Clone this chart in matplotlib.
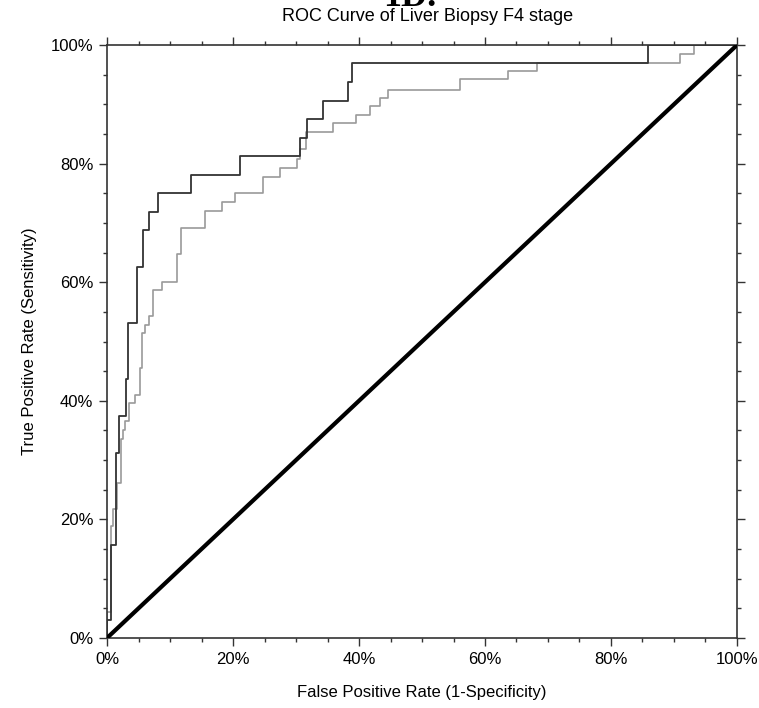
import matplotlib.pyplot as plt
from matplotlib.ticker import MultipleLocator, PercentFormatter

plt.rcParams['font.family'] = ['Liberation Sans', 'DejaVu Sans']

# step corners, in percent
dark_fpr = [0, 0, 0.6, 0.6, 1.5, 1.5, 1.95, 1.95, 3.0, 3.0, 3.3, 3.3, 4.75, 4.75,
            5.7, 5.7, 6.7, 6.7, 8.1, 8.1, 13.4, 13.4, 21.1, 21.1, 30.6, 30.6,
            31.8, 31.8, 34.3, 34.3, 38.2, 38.2, 38.9, 38.9, 85.9, 85.9, 100]
dark_tpr = [0, 3.1, 3.1, 15.6, 15.6, 31.25, 31.25, 37.5, 37.5, 43.75, 43.75, 53.1,
            53.1, 62.5, 62.5, 68.75, 68.75, 71.9, 71.9, 75.0, 75.0, 78.1, 78.1,
            81.25, 81.25, 84.4, 84.4, 87.5, 87.5, 90.6, 90.6, 93.75, 93.75, 96.9,
            96.9, 100, 100]

light_fpr = [0, 0, 0.6, 0.6, 1.0, 1.0, 1.54, 1.54, 2.27, 2.27, 2.49, 2.49, 2.86, 2.86,
             3.54, 3.54, 4.49, 4.49, 5.2, 5.2, 5.5, 5.5, 6.1, 6.1, 6.6, 6.6, 7.3, 7.3,
             8.7, 8.7, 11.16, 11.16, 11.7, 11.7, 15.56, 15.56, 18.25, 18.25, 20.3,
             20.3, 24.8, 24.8, 27.5, 27.5, 30.1, 30.1, 30.6, 30.6, 31.6, 31.6, 35.8,
             35.8, 39.6, 39.6, 41.7, 41.7, 43.3, 43.3, 44.6, 44.6, 56.0, 56.0, 63.7,
             63.7, 68.2, 68.2, 90.95, 90.95, 93.2, 93.2, 100]
light_tpr = [0, 4.4, 4.4, 18.9, 18.9, 21.7, 21.7, 26.2, 26.2, 33.6, 33.6, 35.1, 35.1,
             36.6, 36.6, 39.6, 39.6, 41.0, 41.0, 45.5, 45.5, 51.4, 51.4, 52.8, 52.8,
             54.3, 54.3, 58.7, 58.7, 60.1, 60.1, 64.8, 64.8, 69.1, 69.1, 72.0, 72.0,
             73.5, 73.5, 75.0, 75.0, 77.8, 77.8, 79.3, 79.3, 80.7, 80.7, 82.4, 82.4,
             85.3, 85.3, 86.8, 86.8, 88.2, 88.2, 89.7, 89.7, 91.1, 91.1, 92.5, 92.5,
             94.2, 94.2, 95.6, 95.6, 96.9, 96.9, 98.5, 98.5, 100, 100]

ref_line = [0, 100]

fig = plt.figure(figsize=(7.59, 7.08), dpi=100)
ax = fig.add_axes([0.141, 0.0989, 0.830, 0.8375])

ax.plot(light_fpr, light_tpr, color='#9a9a9a', lw=1.2, zorder=2)
ax.plot(dark_fpr, dark_tpr, color='#333333', lw=1.3, zorder=3)
ax.plot(ref_line, ref_line, color='black', lw=3, solid_capstyle='butt', zorder=4)

ax.set_xlim(0, 100)
ax.set_ylim(0, 100)
for a in (ax.xaxis, ax.yaxis):
    a.set_major_locator(MultipleLocator(20))
    a.set_minor_locator(MultipleLocator(5))
    a.set_major_formatter(PercentFormatter(decimals=0))
ax.tick_params(which='both', direction='out', top=True, right=True,
               labelsize=12, color='#333333', width=1)
ax.tick_params(which='major', length=6, pad=4)
ax.tick_params(which='minor', length=3)
for s in ax.spines.values():
    s.set_color('#333333')
    s.set_linewidth(1.2)

ax.set_xlabel('False Positive Rate (1-Specificity)', fontsize=12, labelpad=13)
ax.set_ylabel('True Positive Rate (Sensitivity)', fontsize=12, labelpad=10)

fig.text(0.563, 0.977, 'ROC Curve of Liver Biopsy F4 stage', ha='center',
         va='center', fontsize=13)
fig.text(0.54, 0.992, '1D.', ha='center', va='baseline', fontsize=26,
         fontweight='bold', family='Liberation Serif')

fig.savefig('out.png', dpi=100)
